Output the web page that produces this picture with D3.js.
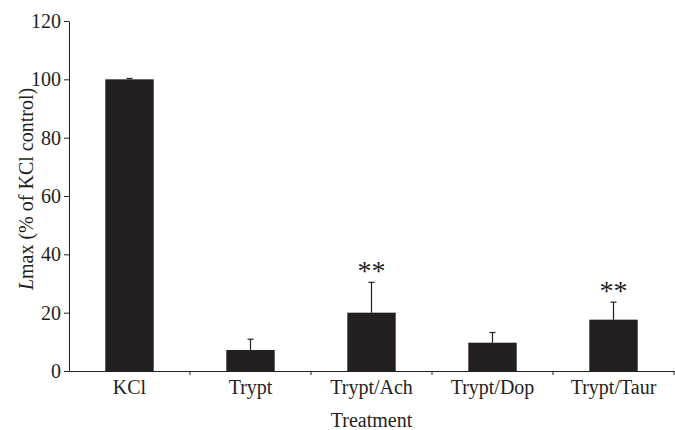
<!DOCTYPE html>
<html>
<head>
<meta charset="utf-8">
<script src="https://cdn.jsdelivr.net/npm/d3@7/dist/d3.min.js"></script>
<style>
  html, body { margin: 0; padding: 0; background: #fff; }
  svg { display: block; }
  text { font-family: "Liberation Serif", "Times New Roman", serif; fill: #231f20; }
</style>
</head>
<body>
<svg id="chart" width="675" height="430"></svg>
<script>
// Treatment groups and their mean Lmax (% of KCl control) with SEM
const categories = ["KCl", "Trypt", "Trypt/Ach", "Trypt/Dop", "Trypt/Taur"];
const means = [100, 7.2, 20, 9.7, 17.6];
const errors = [0.3, 3.7, 10.4, 3.5, 6.0];
const significance = ["", "", "**", "", "**"];
const yTicks = [0, 20, 40, 60, 80, 100, 120];

const svg = d3.select("#chart");
const margin = { top: 21, right: 1, bottom: 59, left: 69 };
const width = 675 - margin.left - margin.right;
const height = 430 - margin.top - margin.bottom;
const ink = "#231f20";
const fontSize = "20px";

const g = svg.append("g").attr("transform", `translate(${margin.left},${margin.top})`);

const x = d3.scaleBand().domain(categories).range([0, width]).padding(0);
const y = d3.scaleLinear().domain([0, 120]).range([height, 0]);
const barW = x.bandwidth() * 0.4;

const data = categories.map((c, i) => ({ c, m: means[i], e: errors[i], s: significance[i] }));

// bars
g.selectAll("rect.bar").data(data).join("rect")
  .attr("class", "bar")
  .attr("x", d => x(d.c) + (x.bandwidth() - barW) / 2)
  .attr("y", d => y(d.m))
  .attr("width", barW)
  .attr("height", d => y(0) - y(d.m))
  .attr("fill", ink);

// upper error bars
const eb = g.selectAll("g.err").data(data).join("g").attr("class", "err")
  .attr("transform", d => `translate(${x(d.c) + x.bandwidth() / 2},0)`);
eb.append("line")
  .attr("x1", 0).attr("x2", 0)
  .attr("y1", d => y(d.m)).attr("y2", d => y(d.m + d.e))
  .attr("stroke", ink).attr("stroke-width", 1.2);
eb.append("line")
  .attr("x1", -3).attr("x2", 3)
  .attr("y1", d => y(d.m + d.e)).attr("y2", d => y(d.m + d.e))
  .attr("stroke", ink).attr("stroke-width", 1.2);

// significance markers
g.selectAll("text.sig").data(data.filter(d => d.s)).join("text")
  .attr("class", "sig")
  .attr("x", d => x(d.c) + x.bandwidth() / 2)
  .attr("y", d => y(d.m + d.e) - 2)
  .attr("text-anchor", "middle")
  .style("font-size", "28px")
  .text(d => d.s);

// y axis
const yAxis = g.append("g")
  .call(d3.axisLeft(y).tickValues(yTicks).tickSize(5).tickSizeOuter(0).tickPadding(3));
yAxis.selectAll("text").style("font-size", fontSize).attr("fill", ink);
yAxis.selectAll("line, path").attr("stroke", ink);

// x axis with tick marks on the group boundaries
const xAxis = g.append("g").attr("transform", `translate(0,${height})`)
  .call(d3.axisBottom(x).tickSize(0).tickSizeOuter(0).tickPadding(9));
xAxis.selectAll("text").style("font-size", fontSize).attr("fill", ink);
xAxis.select("path").attr("stroke", ink);
xAxis.selectAll("line.bound").data(categories).join("line")
  .attr("class", "bound")
  .attr("x1", d => x(d) + x.bandwidth()).attr("x2", d => x(d) + x.bandwidth())
  .attr("y1", 0).attr("y2", 4)
  .attr("stroke", ink);

// axis titles
const yTitle = svg.append("text")
  .attr("transform", `translate(33,189) rotate(-90)`)
  .attr("text-anchor", "middle")
  .style("font-size", fontSize);
yTitle.append("tspan").style("font-style", "italic").text("L");
yTitle.append("tspan").text("max (% of KCl control)");

svg.append("text")
  .attr("x", margin.left + width / 2)
  .attr("y", 427)
  .attr("text-anchor", "middle")
  .style("font-size", fontSize)
  .text("Treatment");
</script>
</body>
</html>
